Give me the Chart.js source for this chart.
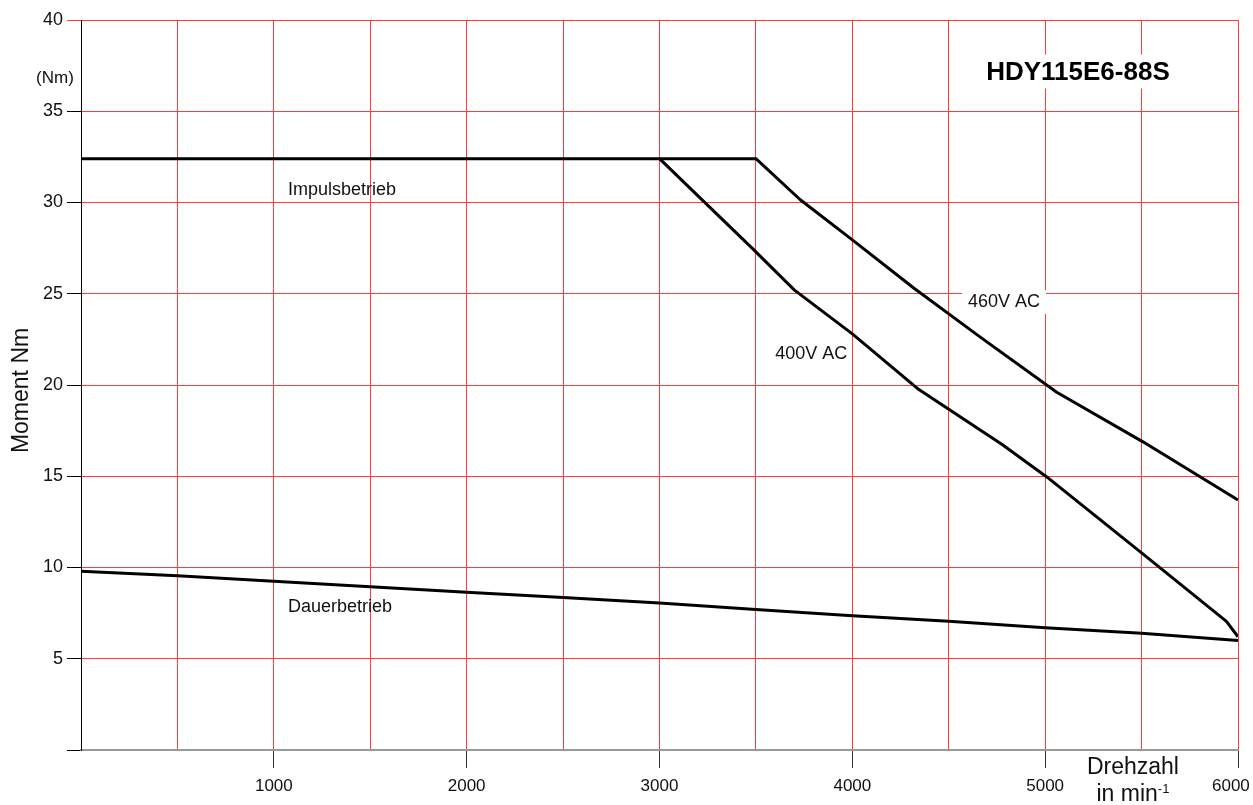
<!DOCTYPE html>
<html>
<head>
<meta charset="utf-8">
<script src="https://cdn.jsdelivr.net/npm/chart.js@4/dist/chart.umd.min.js"></script>
<style>
  html, body { margin: 0; padding: 0; background: #fff; }
  #wrap { width: 1253px; height: 805px; }
</style>
</head>
<body>
<div id="wrap"><canvas id="c" width="1253" height="805"></canvas></div>
<script>
// Torque/speed curves of the servo motor
const modelName = 'HDY115E6-88S';

// Peak torque at 400 V supply
const rpm400 = [0, 3000, 3225, 3480, 3700, 4000, 4345, 4775, 5010, 5500, 5940, 6000];
const torque400 = [32.4, 32.4, 30.1, 27.5, 25.2, 22.8, 19.75, 16.75, 14.95, 10.8, 7.05, 6.2];

// Peak torque at 460 V supply
const rpm460 = [3000, 3500, 3730, 4000, 4320, 4660, 5060, 5505, 6000];
const torque460 = [32.4, 32.4, 30.15, 27.95, 25.3, 22.65, 19.6, 16.9, 13.7];

// Continuous torque
const rpmCont = [0, 500, 1000, 1500, 2000, 2500, 3000, 3500, 4000, 4500, 5000, 5500, 6000];
const torqueCont = [9.8, 9.55, 9.25, 8.95, 8.65, 8.35, 8.05, 7.7, 7.35, 7.05, 6.7, 6.4, 6.0];

// Axis ticks
const xTicks = [1000, 2000, 3000, 4000, 5000, 6000];
const yTicks = [5, 10, 15, 20, 25, 30, 35, 40];

// Curve labels, placed in data units (rpm, Nm)
const curveLabels = [
  { text: 'Impulsbetrieb', x: 1073, y: 30.7, box: false },
  { text: 'Dauerbetrieb', x: 1073, y: 7.85, box: false },
  { text: '400V AC', x: 3600, y: 21.7, box: false },
  { text: '460V AC', x: 4600, y: 24.55, box: true }
];

const FONT = '"Liberation Sans", Arial, sans-serif';
const GRID_RED = '#ff3b3b';

const pts = (xs, ys) => xs.map((x, i) => ({ x, y: ys[i] }));

const lineStyle = {
  borderColor: '#000',
  borderWidth: 3,
  pointRadius: 0,
  fill: false,
  tension: 0,
  borderJoinStyle: 'round',
  borderCapStyle: 'butt'
};

const decorations = {
  id: 'decorations',
  afterDatasetsDraw(chart) {
    const { ctx, scales: { x, y } } = chart;
    ctx.save();
    ctx.textBaseline = 'middle';
    ctx.textAlign = 'left';
    ctx.font = '18px ' + FONT;
    curveLabels.forEach(l => {
      const px = x.getPixelForValue(l.x);
      const py = y.getPixelForValue(l.y);
      if (l.box) {
        const w = ctx.measureText(l.text).width;
        ctx.fillStyle = '#fff';
        ctx.fillRect(px - 6, py - 12, w + 12, 24);
      }
      ctx.fillStyle = '#111';
      ctx.fillText(l.text, px, py);
    });

    // model name in the upper right
    ctx.font = 'bold 26px ' + FONT;
    ctx.textAlign = 'center';
    const tx = x.getPixelForValue(5170);
    const ty = y.getPixelForValue(37.12);
    const tw = ctx.measureText(modelName).width;
    ctx.fillStyle = '#fff';
    ctx.fillRect(tx - tw / 2 - 8, ty - 18, tw + 16, 34);
    ctx.fillStyle = '#000';
    ctx.fillText(modelName, tx, ty);

    // unit next to the y axis
    ctx.font = '17px ' + FONT;
    ctx.fillStyle = '#111';
    ctx.textAlign = 'center';
    ctx.fillText('(Nm)', 55, y.getPixelForValue(36.8));

    // y axis caption, rotated
    ctx.save();
    ctx.translate(22, y.getPixelForValue(19.7));
    ctx.rotate(-Math.PI / 2);
    ctx.font = '23px ' + FONT;
    ctx.fillText('Moment Nm', 0, 0);
    ctx.restore();

    // x axis caption
    const cx = x.getPixelForValue(5455);
    ctx.font = '23px ' + FONT;
    ctx.fillText('Drehzahl', cx, 768);
    const main = 'in min';
    const mw = ctx.measureText(main).width;
    ctx.font = '13px ' + FONT;
    const sw = ctx.measureText('-1').width;
    const startX = cx - (mw + sw) / 2;
    ctx.textAlign = 'left';
    ctx.font = '23px ' + FONT;
    ctx.fillText(main, startX, 795);
    ctx.font = '13px ' + FONT;
    ctx.fillText('-1', startX + mw, 789);
    ctx.restore();
  }
};

new Chart(document.getElementById('c'), {
  type: 'line',
  data: {
    datasets: [
      { label: '400V AC', data: pts(rpm400, torque400), ...lineStyle },
      { label: '460V AC', data: pts(rpm460, torque460), ...lineStyle },
      { label: 'Dauerbetrieb', data: pts(rpmCont, torqueCont), ...lineStyle }
    ]
  },
  options: {
    responsive: false,
    animation: false,
    devicePixelRatio: 1,
    layout: { padding: { top: 20, right: 15, left: 0, bottom: 0 } },
    plugins: { legend: { display: false }, tooltip: { enabled: false } },
    scales: {
      x: {
        type: 'linear',
        min: 0,
        max: 6000,
        afterBuildTicks(scale) {
          const t = [];
          for (let v = 0; v <= 6000; v += 500) t.push({ value: v });
          scale.ticks = t;
        },
        ticks: {
          autoSkip: false,
          maxRotation: 0,
          padding: 8,
          color: '#111',
          font: { family: FONT, size: 17 },
          // the last label sits slightly inside the right edge
          callback: v => (xTicks.includes(v) ? (v === 6000 ? String(v) + '   ' : String(v)) : '')
        },
        grid: {
          color: GRID_RED,
          lineWidth: 1,
          drawTicks: true,
          tickLength: 18,
          tickColor: c => (c.tick && xTicks.includes(c.tick.value) ? '#333' : 'rgba(0,0,0,0)')
        },
        border: { display: true, color: '#9a9a9a', width: 2 },
        afterFit(scale) {
          scale.height = 55;
          scale.paddingLeft = 0;
          scale.paddingRight = 0;
        }
      },
      y: {
        type: 'linear',
        min: 0,
        max: 40,
        afterBuildTicks(scale) {
          scale.ticks = [0].concat(yTicks).map(v => ({ value: v }));
        },
        ticks: {
          padding: 4,
          color: '#111',
          font: { family: FONT, size: 18 },
          callback: v => (yTicks.includes(v) ? String(v) : '')
        },
        grid: {
          color: GRID_RED,
          lineWidth: 1,
          drawTicks: true,
          tickLength: 14,
          tickColor: c => (c.tick && c.tick.value === 40 ? GRID_RED : '#000')
        },
        border: { display: true, color: '#000', width: 1 },
        afterFit(scale) {
          scale.width = 81;
          scale.paddingTop = 0;
          scale.paddingBottom = 0;
        }
      }
    }
  },
  plugins: [decorations]
});
</script>
</body>
</html>
